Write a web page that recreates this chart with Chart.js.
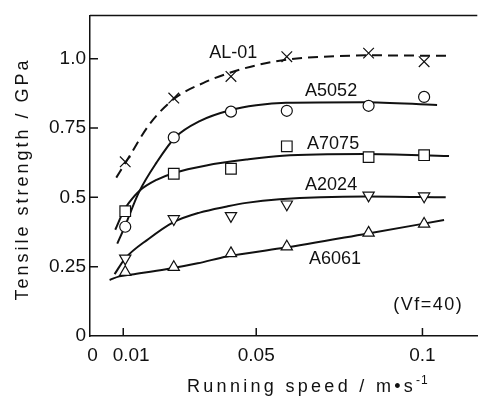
<!DOCTYPE html>
<html>
<head>
<meta charset="utf-8">
<script src="https://cdn.jsdelivr.net/npm/chart.js@4.4.1/dist/chart.umd.min.js"></script>
<style>
  html, body { margin: 0; padding: 0; background: #fff; }
  canvas { display: block; }
</style>
</head>
<body>
<canvas id="chart" width="486" height="399"></canvas>
<script>
// measured points (running speed in m/s, tensile strength in GPa)
const speeds = [0.0106, 0.0252, 0.0424, 0.0592, 0.0838, 0.1005];
const al01 = [0.628, 0.858, 0.936, 1.007, 1.02, 0.989];
const a5052 = [0.394, 0.716, 0.809, 0.812, 0.83, 0.862];
const a7075 = [0.45, 0.585, 0.603, 0.684, 0.645, 0.652];
const a2024 = [0.28, 0.422, 0.433, 0.475, 0.507, 0.504];
const a6061 = [0.23, 0.248, 0.298, 0.322, 0.372, 0.404];

// hand-drawn trend curves as [speed, strength]
const al01Curve = [[0.0079, 0.571], [0.0112, 0.635], [0.018, 0.765], [0.0256, 0.858], [0.034, 0.912], [0.043, 0.953], [0.05, 0.976], [0.06, 0.998], [0.07, 1.007], [0.085, 1.012], [0.108, 1.01]];
const a5052Curve = [[0.0082, 0.333], [0.0103, 0.39], [0.0147, 0.518], [0.02, 0.625], [0.0256, 0.716], [0.033, 0.775], [0.0424, 0.815], [0.05, 0.832], [0.059, 0.841], [0.082, 0.843], [0.1044, 0.833]];
const a7075Curve = [[0.0076, 0.383], [0.0103, 0.455], [0.0118, 0.482], [0.015, 0.525], [0.02, 0.563], [0.0253, 0.588], [0.035, 0.615], [0.047, 0.636], [0.058, 0.65], [0.0824, 0.656], [0.108, 0.649]];
const a2024Curve = [[0.0074, 0.223], [0.0106, 0.28], [0.0176, 0.35], [0.025, 0.41], [0.033, 0.445], [0.0412, 0.467], [0.047, 0.48], [0.057, 0.493], [0.083, 0.503], [0.107, 0.5]];
const a6061Curve = [[0.0059, 0.202], [0.0088, 0.215], [0.0126, 0.222], [0.0229, 0.241], [0.0324, 0.262], [0.0412, 0.287], [0.0574, 0.316], [0.0832, 0.369], [0.1065, 0.418]];

const seriesNames = ['AL-01', 'A5052', 'A7075', 'A2024', 'A6061'];
// where each name sits on the plot, [speed, strength] at the text's left baseline
const nameAnchors = [[0.0359, 1.002], [0.0647, 0.864], [0.0653, 0.676], [0.0647, 0.528], [0.0659, 0.258]];
const noteText = '(Vf=40)';
const noteAnchor = [0.0912, 0.092];

const xTicks = [0, 0.01, 0.05, 0.1];
// leading spaces nudge the first two labels right, as in the original
const xTickLabels = [' 0', '   0.01', '0.05', '0.1'];
const yTicks = [0, 0.25, 0.5, 0.75, 1.0];
const yTickLabels = ['0', '0.25', '0.5', '0.75', '1.0'];

const INK = '#111';
const FONT = "'Liberation Sans', Arial, Helvetica, sans-serif";

const markerStyles = [
  { pointStyle: 'crossRot', radius: 7.5, rotation: 0 },
  { pointStyle: 'circle', radius: 5.5, rotation: 0 },
  { pointStyle: 'rect', radius: 7.5, rotation: 0 },
  { pointStyle: 'triangle', radius: 6.5, rotation: 180 },
  { pointStyle: 'triangle', radius: 6.5, rotation: 0 },
];
const valueSets = [al01, a5052, a7075, a2024, a6061];
const curveSets = [al01Curve, a5052Curve, a7075Curve, a2024Curve, a6061Curve];

const datasets = [];
seriesNames.forEach((name, i) => {
  datasets.push({
    type: 'line',
    label: name + ' fit',
    data: curveSets[i].map(p => ({ x: p[0], y: p[1] })),
    borderColor: INK,
    borderWidth: 2,
    borderDash: i === 0 ? [10, 6] : [],
    pointRadius: 0,
    cubicInterpolationMode: 'monotone',
    fill: false,
    order: 2,
  });
  datasets.push({
    type: 'scatter',
    label: name,
    data: speeds.map((s, k) => ({ x: s, y: valueSets[i][k] })),
    pointStyle: markerStyles[i].pointStyle,
    pointRadius: markerStyles[i].radius,
    rotation: markerStyles[i].rotation,
    pointBackgroundColor: '#fff',
    pointBorderColor: INK,
    pointBorderWidth: 1.2,
    showLine: false,
    order: 1,
  });
});

// frame top, inward tick marks, axis titles and the curve names
const decorations = {
  id: 'decorations',
  afterDraw(chart) {
    const { ctx, chartArea, scales } = chart;
    const x = scales.x, y = scales.y;
    ctx.save();
    ctx.strokeStyle = INK;
    ctx.lineWidth = 1.5;
    ctx.beginPath();
    ctx.moveTo(chartArea.left, chartArea.top);
    ctx.lineTo(chartArea.right, chartArea.top);
    xTicks.forEach(v => {
      if (v === 0) return;
      const px = x.getPixelForValue(v);
      ctx.moveTo(px, chartArea.bottom);
      ctx.lineTo(px, chartArea.bottom - 8);
    });
    yTicks.forEach(v => {
      if (v === 0) return;
      const py = y.getPixelForValue(v);
      ctx.moveTo(chartArea.left, py);
      ctx.lineTo(chartArea.left + 8, py);
    });
    ctx.stroke();

    ctx.fillStyle = INK;
    ctx.font = '18px ' + FONT;
    ctx.textAlign = 'left';
    ctx.textBaseline = 'alphabetic';
    seriesNames.forEach((name, i) => {
      ctx.fillText(name, x.getPixelForValue(nameAnchors[i][0]), y.getPixelForValue(nameAnchors[i][1]));
    });
    ctx.letterSpacing = '1.5px';
    ctx.fillText(noteText, x.getPixelForValue(noteAnchor[0]), y.getPixelForValue(noteAnchor[1]));

    // x axis title with superscript
    ctx.letterSpacing = '3.3px';
    ctx.font = '18px ' + FONT;
    const main = 'Running speed / m\u2022s';
    const left = 187;
    ctx.fillText(main, left, 392);
    const w = ctx.measureText(main).width;
    ctx.font = '12px ' + FONT;
    ctx.letterSpacing = '1px';
    ctx.fillText('-1', left + w, 384);

    // y axis title
    ctx.font = '18px ' + FONT;
    ctx.letterSpacing = '3px';
    ctx.translate(28, 179);
    ctx.rotate(-Math.PI / 2);
    ctx.textAlign = 'center';
    ctx.fillText('Tensile strength / GPa', 0, 0);
    ctx.restore();
  }
};

new Chart(document.getElementById('chart'), {
  type: 'scatter',
  data: { datasets },
  options: {
    responsive: false,
    animation: false,
    events: [],
    layout: { padding: { top: 9, right: 0, left: 0, bottom: 0 } },
    plugins: { legend: { display: false }, tooltip: { enabled: false } },
    scales: {
      x: {
        type: 'linear',
        min: 0,
        max: 0.1165,
        afterBuildTicks: s => { s.ticks = xTicks.map(v => ({ value: v })); },
        afterFit: s => { s.height = 63; },
        grid: { display: false, drawTicks: false },
        border: { display: true, color: INK, width: 1.5 },
        ticks: {
          color: INK,
          padding: 8,
          maxRotation: 0,
          autoSkip: false,
          font: { family: FONT, size: 19 },
          callback: v => xTickLabels[xTicks.indexOf(v)],
        },
      },
      y: {
        type: 'linear',
        min: 0,
        max: 1.156,
        afterBuildTicks: s => { s.ticks = yTicks.map(v => ({ value: v })); },
        afterFit: s => { s.width = 90; },
        grid: { display: false, drawTicks: false },
        border: { display: true, color: INK, width: 1.5 },
        ticks: {
          color: INK,
          padding: 4,
          autoSkip: false,
          font: { family: FONT, size: 19 },
          callback: v => yTickLabels[yTicks.indexOf(v)],
        },
      },
    },
  },
  plugins: [decorations],
});
</script>
</body>
</html>
